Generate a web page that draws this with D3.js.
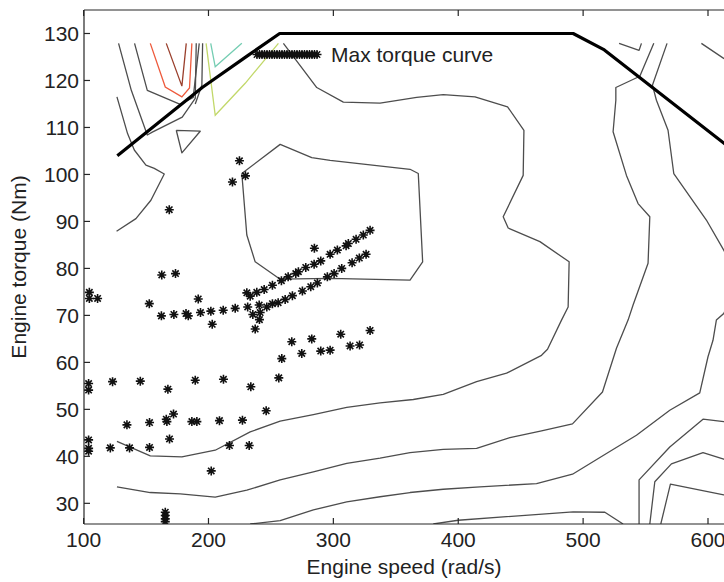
<!DOCTYPE html>
<html>
<head>
<meta charset="utf-8">
<script src="https://cdn.jsdelivr.net/npm/d3@7"></script>
<style>
  body { margin: 0; background: #fff; }
  text { font-family: "Liberation Sans", Arial, Helvetica, sans-serif; fill: #222; }
</style>
</head>
<body>
<svg id="chart" width="724" height="582"></svg>
<script>
// ---- axis ticks ----
const xTicks = [100, 200, 300, 400, 500, 600];
const yTicks = [30, 40, 50, 60, 70, 80, 90, 100, 110, 120, 130];

// ---- maximum torque envelope (rad/s, Nm) ----
const maxTorqueSpeed = [127, 195, 232, 257, 492, 517, 625];
const maxTorqueValue = [104, 118.5, 125.4, 130, 130, 126.5, 104.1];

// ---- efficiency map iso-lines, [speed, torque] ----
const contourIsland = [[226.7,100.2],[257.4,106.4],[282.7,103.6],[297.4,103.0],[361.4,101.1],[368.0,100.2],[371.5,81.4],[361.4,77.5],[297.4,77.9],[257.4,77.7],[237.4,81.4],[230.7,87.1],[226.7,100.2]];
const contourMid = [[260.0,127.9],[286.7,118.5],[308.0,115.4],[337.4,115.2],[366.7,116.4],[388.0,117.0],[413.4,116.5],[439.5,114.4],[452.6,109.4],[452.0,99.8],[436.0,91.0],[440.0,88.6],[465.4,85.7],[488.8,81.4],[488.0,71.8],[482.7,69.0],[471.5,62.8],[466.7,61.5],[438.7,57.7],[414.7,55.9],[388.0,53.2],[364.0,52.1],[337.4,51.4],[310.7,50.4],[284.0,48.9],[257.4,47.5],[233.4,45.2],[205.4,41.3],[178.7,39.9],[153.4,40.1],[126.7,43.2]];
const contourOuter = [[556.6,127.9],[545.4,120.9],[526.2,118.5],[526.2,115.8],[524.0,109.1],[534.7,99.8],[544.0,93.8],[553.4,91.0],[552.0,81.1],[540.0,72.2],[536.0,69.0],[526.7,63.0],[515.5,53.7],[491.5,46.9],[466.7,45.4],[441.4,44.0],[414.7,41.7],[388.0,41.5],[361.4,40.8],[337.4,39.6],[310.7,38.5],[284.0,36.7],[257.4,35.0],[230.7,32.8],[205.4,31.3],[177.4,32.0],[153.4,32.3],[126.7,33.5]];
const contourLow = [[567.2,127.9],[555.5,119.0],[558.7,115.8],[568.0,109.4],[572.6,100.2],[598.7,90.3],[612.6,83.9],[625.4,77.1],[612.6,70.4],[606.7,69.0],[604.0,64.7],[600.0,61.2],[593.4,53.5],[569.4,49.8],[542.7,44.5],[518.7,40.6],[491.5,36.2],[462.7,34.2],[417.4,33.5],[388.0,33.0],[361.4,32.3],[337.4,31.4],[310.7,30.3],[284.0,28.6],[257.4,26.3],[233.4,25.6]];
const contourBottom = [[380.0,25.6],[400.0,26.4],[492.0,28.2],[517.4,28.1],[532.0,25.6]];
const contourRight1 = [[544.8,25.6],[544.8,35.0],[569.4,42.0],[596.0,47.9],[612.6,47.4],[625.4,46.9]];
const contourRight2 = [[553.4,25.6],[557.4,34.6],[570.7,38.4],[596.0,40.8],[612.6,39.4],[625.4,38.4]];
const contourRight3 = [[562.2,25.6],[569.9,34.1],[612.6,31.8],[625.4,31.1]];
const contourTopV = [[528.8,127.9],[544.8,126.4],[546.7,127.9]];
const contourTopRight = [[594.7,127.9],[612.6,124.7],[625.4,122.5]];
const contourLeftA = [[126.7,116.5],[135.2,108.7],[140.6,105.2],[149.9,102.0],[156.6,101.3],[164.6,100.1],[153.9,94.5],[141.9,90.6],[126.4,87.9]];
const contourLeftB = [[128.0,127.9],[138.2,117.9],[151.0,108.4],[155.0,109.0],[179.0,112.2],[189.4,116.2],[190.2,127.9]];
const contourLeftC = [[140.8,127.9],[151.0,117.9],[177.4,114.9],[187.8,116.4],[192.6,127.9]];
const contourLeftD = [[195.3,127.9],[194.7,119.0],[189.4,115.0]];
const contourTriangle = [[174.2,109.4],[193.4,109.2],[178.7,104.6],[174.2,109.4]];
const contourRed = [[153.4,127.9],[165.4,118.6],[178.7,116.5],[184.8,118.4],[186.7,127.9]];
const contourBrown = [[166.2,127.9],[178.7,118.8],[182.2,127.9]];
const contourLime = [[198.1,127.9],[205.4,112.6],[229.4,119.4],[256.0,127.9]];
const contourTeal = [[201.8,127.9],[205.4,122.9],[226.7,127.9]];

const grayContours = [contourIsland, contourMid, contourOuter, contourLow, contourBottom,
  contourRight1, contourRight2, contourRight3, contourTopV, contourTopRight,
  contourLeftA, contourLeftB, contourLeftC, contourLeftD, contourTriangle];
const colouredContours = [
  { line: contourRed, color: "#ee5a3c" },
  { line: contourBrown, color: "#9a3f2c" },
  { line: contourLime, color: "#c2d86a" },
  { line: contourTeal, color: "#74cdb2" }
];

// ---- measured operating points (rad/s, Nm) ----
const operatingSpeed = [104.6,104.6,111.2,162.6,173.6,152.6,191.8,162.3,172.3,182.0,183.8,193.6,201.9,211.8,221.4,231.4,203.0,230.7,233.4,240.6,235.5,241.4,240.8,237.4,
  238.7,244.6,251.2,258.4,263.8,269.9,272.0,277.9,284.6,289.9,297.4,303.2,310.2,312.0,318.2,324.0,329.4,
  246.7,251.2,255.8,261.4,267.2,275.2,281.9,287.2,295.2,300.6,306.7,315.0,320.8,326.2,284.8,
  168.6,224.8,219.2,229.6,
  258.7,266.7,274.7,282.7,289.9,297.4,305.9,313.4,321.0,329.4,256.3,246.2,
  104.0,104.0,123.2,145.4,167.5,189.4,212.0,233.9,
  134.7,152.8,166.2,166.7,172.0,186.7,190.7,208.8,227.2,
  104.0,104.0,104.0,121.4,136.8,152.8,168.8,216.8,232.6,202.2,
  165.4,165.4,165.4,165.4];
const operatingTorque = [74.9,73.6,73.6,78.6,78.9,72.5,73.5,69.9,70.2,70.4,69.9,70.6,70.9,71.1,71.5,71.8,68.1,74.8,74.1,72.2,70.2,70.6,69.1,67.1,
  74.9,75.5,76.4,77.4,78.2,78.9,79.3,80.2,80.9,81.6,83.0,83.9,84.8,85.3,86.2,87.1,88.1,
  71.8,72.5,72.7,73.4,74.2,75.2,76.1,76.9,78.2,78.9,80.0,81.2,82.2,83.0,84.3,
  92.5,102.9,98.4,99.7,
  60.8,64.4,61.9,65.0,62.4,62.6,66.0,63.5,63.7,66.8,56.7,49.7,
  55.5,54.1,55.9,56.0,54.3,56.2,56.4,54.8,
  46.7,47.2,47.9,47.4,49.0,47.4,47.4,47.6,47.7,
  43.5,41.7,41.1,41.8,41.8,41.9,43.7,42.3,42.3,36.9,
  28.1,27.4,26.7,26.1];

const legendLabel = "Max torque curve";

// ---- layout ----
const svg = d3.select("#chart");
const plotLeft = 84, plotTop = 10, plotBottom = 524, plotRight = 724;
const fontSize = 21;
const x = d3.scaleLinear().domain([100, 600]).range([83.6, 708]);
const y = d3.scaleLinear().domain([25.6, 135]).range([plotBottom, plotTop]);

svg.append("defs").append("clipPath").attr("id", "plotClip")
  .append("rect").attr("x", plotLeft).attr("y", plotTop).attr("width", 800).attr("height", plotBottom - plotTop);

const plot = svg.append("g").attr("clip-path", "url(#plotClip)");
const line = d3.line().x(d => x(d[0])).y(d => y(d[1]));

plot.selectAll("path.iso").data(grayContours).join("path")
  .attr("class", "iso").attr("d", line)
  .attr("fill", "none").attr("stroke", "#4d4d4d").attr("stroke-width", 1.3)
  .attr("stroke-linejoin", "round");

plot.selectAll("path.isoc").data(colouredContours).join("path")
  .attr("class", "isoc").attr("d", d => line(d.line))
  .attr("fill", "none").attr("stroke", d => d.color).attr("stroke-width", 1.3);

// asterisk marker
const r = 4.5, dd = 3.2;
const star = `M${-r},0H${r}M0,${-r}V${r}M${-dd},${-dd}L${dd},${dd}M${-dd},${dd}L${dd},${-dd}`;

plot.selectAll("path.pt").data(d3.range(operatingSpeed.length)).join("path")
  .attr("class", "pt")
  .attr("transform", i => `translate(${x(operatingSpeed[i])},${y(operatingTorque[i])})`)
  .attr("d", star).attr("fill", "none").attr("stroke", "#111").attr("stroke-width", 1.6);

// max torque envelope
plot.append("path")
  .attr("d", d3.line().x((d, i) => x(maxTorqueSpeed[i])).y(d => y(d))(maxTorqueValue))
  .attr("fill", "none").attr("stroke", "#000").attr("stroke-width", 3.2)
  .attr("stroke-linejoin", "round");

// legend
const lg = svg.append("g");
lg.selectAll("path").data(d3.range(25)).join("path")
  .attr("transform", i => `translate(${257 + i * 2.5},54.5)`)
  .attr("d", star).attr("fill", "none").attr("stroke", "#111").attr("stroke-width", 1.4);
lg.append("text").attr("x", 331).attr("y", 61.5).attr("font-size", fontSize).text(legendLabel);

// axes frame
const ax = svg.append("g").attr("stroke", "#262626").attr("stroke-width", 1.2);
ax.append("line").attr("x1", plotLeft).attr("x2", plotRight + 5).attr("y1", plotTop).attr("y2", plotTop);
ax.append("line").attr("x1", plotLeft).attr("x2", plotRight + 5).attr("y1", plotBottom).attr("y2", plotBottom);
ax.append("line").attr("x1", plotLeft).attr("x2", plotLeft).attr("y1", plotTop).attr("y2", plotBottom);

ax.selectAll("line.xb").data(xTicks).join("line").attr("class", "xb")
  .attr("x1", d => x(d)).attr("x2", d => x(d)).attr("y1", plotBottom).attr("y2", plotBottom - 6);
ax.selectAll("line.xt").data(xTicks).join("line").attr("class", "xt")
  .attr("x1", d => x(d)).attr("x2", d => x(d)).attr("y1", plotTop).attr("y2", plotTop + 6);
ax.selectAll("line.yl").data(yTicks).join("line").attr("class", "yl")
  .attr("x1", plotLeft).attr("x2", plotLeft + 6).attr("y1", d => y(d)).attr("y2", d => y(d));

svg.selectAll("text.xl").data(xTicks).join("text").attr("class", "xl")
  .attr("x", d => x(d)).attr("y", 547).attr("text-anchor", "middle")
  .attr("font-size", fontSize).text(d => d);
svg.selectAll("text.ylab").data(yTicks).join("text").attr("class", "ylab")
  .attr("x", 79).attr("y", d => y(d) + 7.5).attr("text-anchor", "end")
  .attr("font-size", fontSize).text(d => d);

svg.append("text").attr("x", 404).attr("y", 574).attr("text-anchor", "middle")
  .attr("font-size", fontSize).text("Engine speed (rad/s)");
svg.append("text").attr("transform", "translate(26,267) rotate(-90)")
  .attr("text-anchor", "middle").attr("font-size", fontSize).text("Engine torque (Nm)");
</script>
</body>
</html>
